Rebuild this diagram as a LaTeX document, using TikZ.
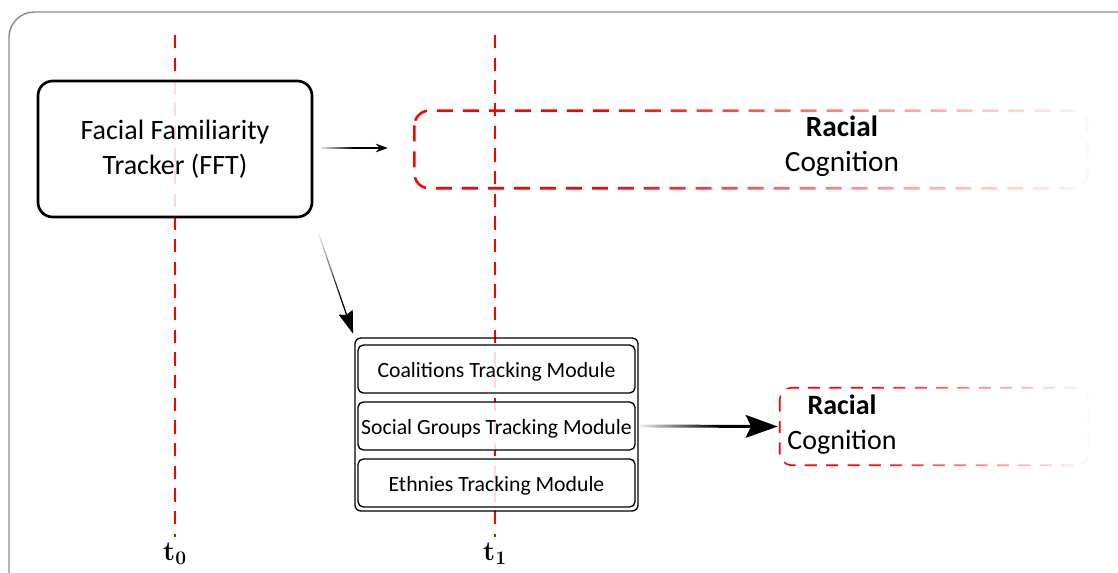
\documentclass[tikz,border=0pt]{standalone}
\usepackage[no-math]{fontspec}
\setmainfont{Carlito}
\usetikzlibrary{arrows.meta,fadings,calc}
\pgfdeclarehorizontalshading{boxfadeshade}{100bp}{color(0bp)=(white); color(25bp)=(white); color(39bp)=(white); color(56bp)=(black!50); color(75bp)=(black!97); color(100bp)=(black!97)}
\tikzfading[name=boxfade, shading=boxfadeshade]
% gradient connector: start, end, start-percent, line width, tip, split fraction, full-dark segment
\newcommand\fadearrow[7]{%
  \foreach \i in {0,...,23}{%
    \pgfmathsetmacro\pa{\i/24*#6}%
    \pgfmathsetmacro\pb{(\i+1)/24*#6+0.002}%
    \pgfmathsetmacro\pc{#3+(100-#3)*min(1,(\i+0.5)/#7)}%
    \draw[line width=#4, draw=black!\pc] ($(#1)!\pa!(#2)$) -- ($(#1)!\pb!(#2)$);
  }%
  \draw[line width=#4, -{#5}] ($(#1)!#6!(#2)$) -- (#2);
}
\newcommand\lowtext[1]{\raisebox{-2pt}[\height][\depth]{#1}}
\begin{document}
\begin{tikzpicture}[x=0.75pt,y=-0.75pt,
  frame/.style={draw=black!45, line width=1.1pt, rounded corners=19pt},
  tline/.style={draw=red, line width=2.2pt, dash pattern=on 10pt off 7pt},
  fftbox/.style={draw=black, line width=2pt, rounded corners=11pt, fill=white, fill opacity=0.85, text opacity=1, align=center, font=\fontsize{21}{26}\selectfont, minimum width=205.5pt, minimum height=102pt, inner sep=0pt},
  rcnode/.style={minimum height=57.75pt, inner sep=0pt},
  rcline1/.style={draw=red, line width=1.9pt, rounded corners=11pt, dash pattern=on 12pt off 7.5pt, path fading=boxfade},
  rcline2/.style={draw=red, line width=1.2pt, rounded corners=9pt, dash pattern=on 9pt off 7pt, path fading=boxfade},
  modouter/.style={draw=black, line width=1pt, rounded corners=4.5pt, minimum width=212.25pt, minimum height=129.75pt, inner sep=0pt},
  modbox/.style={draw=black, line width=1pt, rounded corners=4pt, fill=white, fill opacity=0.85, text opacity=1, minimum width=207.75pt, minimum height=36pt, inner sep=0pt, font=\fontsize{16.3}{19}\selectfont},
  rctext/.style={anchor=base, inner sep=0pt},
  tlabel/.style={font=\fontsize{21}{24}\selectfont\boldmath, inner sep=0pt}
]
\useasboundingbox (0,0) rectangle (1118,573);
\clip (0,0) rectangle (1118,573);
\draw[frame] (9,12) rectangle (1160,620);

% time lines
\draw[tline] (175,35) -- (175,537);
\draw[tline] (495,35) -- (495,537);
\node[tlabel] (t0) at (175,554) {$\mathbf{t}_{\mathbf{0}}$};
\node[tlabel] (t1) at (495,554) {$\mathbf{t}_{\mathbf{1}}$};

% FFT
\node[fftbox] (fft) at (175,149) {Facial Familiarity\\Tracker (FFT)};

% racial cognition boxes
\node[rcnode, minimum width=504.75pt] (rc1) at (751.5,149.5) {};
\draw[rcline1] (rc1.north west) rectangle (rc1.south east);
\node[rctext, font=\fontsize{22}{26}\selectfont\bfseries] (rc1a) at (842,137) {Racial};
\node[rctext, font=\fontsize{22}{26}\selectfont] (rc1b) at (842,172) {Cognition};

\node[rcnode, minimum width=231pt] (rc2) at (934,426.5) {};
\draw[rcline2] (rc2.north west) rectangle (rc2.south east);
\node[rctext, font=\fontsize{21}{26}\selectfont\bfseries] (rc2a) at (842,415) {Racial};
\node[rctext, font=\fontsize{21}{26}\selectfont] (rc2b) at (842,450) {Cognition};

% modules
\node[modouter] (mods) at (496.5,424.5) {};
\node[modbox] (m1) at (496.5,369) {\lowtext{Coalitions Tracking Module}};
\node[modbox] (m2) at (496.5,426) {\lowtext{Social Groups Tracking Module}};
\node[modbox] (m3) at (496.5,483) {\lowtext{Ethnies Tracking Module}};

% connectors
\coordinate (a1s) at ($(fft.east)+(8,-1)$);
\coordinate (a1e) at ($(rc1.west)+(-27,-1.5)$);
\fadearrow{a1s}{a1e}{10}{0.8pt}{Stealth[length=9pt,width=6.5pt]}{0.7}{17}

\coordinate (a2s) at ($(fft.south east)!0.1!(mods.north west)$);
\coordinate (a2e) at ($(fft.south east)!0.97!(mods.north west)$);
\fadearrow{a2s}{a2e}{0}{0.9pt}{Stealth[length=17pt,width=11pt,inset=2pt]}{0.72}{22}

\coordinate (a3s) at ($(m2.east)+(5,0)$);
\coordinate (a3e) at ($(rc2.west)+(-2,0)$);
\fadearrow{a3s}{a3e}{8}{2.2pt}{Stealth[length=24pt,width=17pt,inset=4pt]}{0.7}{19}
\end{tikzpicture}
\end{document}
